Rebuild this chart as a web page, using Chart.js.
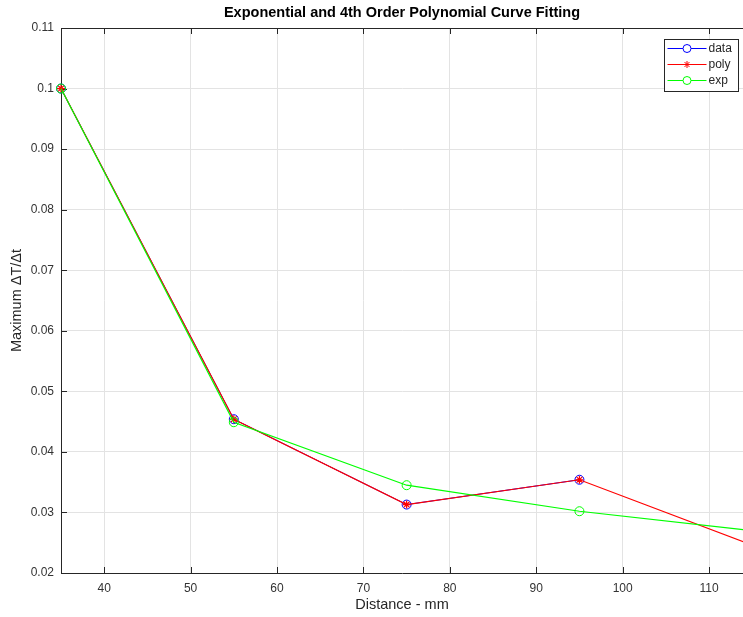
<!DOCTYPE html>
<html>
<head>
<meta charset="utf-8">
<script src="https://cdn.jsdelivr.net/npm/chart.js@4.4.1/dist/chart.umd.min.js"></script>
<style>
  html, body { margin: 0; padding: 0; background: #ffffff; }
  #wrap { width: 743px; height: 617px; }
</style>
</head>
<body>
<div id="wrap"><canvas id="c" width="743" height="617"></canvas></div>
<script>
// ---- data ----
const dataX = [35, 55, 75, 95];
const dataY = [0.1, 0.0454, 0.0313, 0.0354];
const polyX = [35, 55, 75, 95, 115];
const polyY = [0.1, 0.0454, 0.0313, 0.0354, 0.0246];
const expX = [35, 55, 75, 95, 115];
const expY = [0.1, 0.0449, 0.0345, 0.0302, 0.0270];
const xTickValues = [40, 50, 60, 70, 80, 90, 100, 110];
const yTickValues = [0.02, 0.03, 0.04, 0.05, 0.06, 0.07, 0.08, 0.09, 0.1, 0.11];
const seriesNames = ['data', 'poly', 'exp'];
const titleText = 'Exponential and 4th Order Polynomial Curve Fitting';
const xTitle = 'Distance - mm';
const yTitle = 'Maximum \u0394T/\u0394t';

const pts = (xs, ys) => xs.map((x, i) => ({x: x, y: ys[i]}));
const FONT = "'Liberation Sans', Arial, Helvetica, sans-serif";
const AXIS = '#262626';
const BLUE = '#0000ff', RED = '#ff0000', GREEN = '#00ff00';

const boxPlugin = {
  id: 'boxPlugin',
  beforeDatasetsDraw(chart) {
    const {ctx, chartArea: a, scales: {x, y}} = chart;
    ctx.save();
    ctx.strokeStyle = AXIS;
    ctx.lineWidth = 1;
    ctx.beginPath();
    ctx.moveTo(a.left, a.top + 0.5); ctx.lineTo(a.right, a.top + 0.5);
    ctx.stroke();
    // inward tick marks
    ctx.beginPath();
    xTickValues.forEach(v => {
      const px = Math.round(x.getPixelForValue(v)) + 0.5;
      ctx.moveTo(px, a.bottom); ctx.lineTo(px, a.bottom - 6);
      ctx.moveTo(px, a.top); ctx.lineTo(px, a.top + 6);
    });
    yTickValues.forEach(v => {
      const py = Math.round(y.getPixelForValue(v)) + 0.5;
      ctx.moveTo(a.left, py); ctx.lineTo(a.left + 6, py);
    });
    ctx.stroke();
    ctx.restore();
  },
  afterDraw(chart) {
    const {ctx} = chart;
    const bx = 664.5, by = 39.5, bw = 74, bh = 52;
    ctx.save();
    ctx.fillStyle = '#ffffff';
    ctx.fillRect(bx, by, bw, bh);
    ctx.strokeStyle = AXIS;
    ctx.lineWidth = 1;
    ctx.strokeRect(bx, by, bw, bh);
    const colors = [BLUE, RED, GREEN];
    const styles = ['circle', 'star', 'circle'];
    ctx.font = '12px ' + FONT;
    ctx.textBaseline = 'middle';
    seriesNames.forEach((name, i) => {
      const yy = by + 9 + i * 16;
      ctx.strokeStyle = colors[i];
      ctx.lineWidth = 1;
      ctx.beginPath();
      ctx.moveTo(bx + 3, yy); ctx.lineTo(bx + 42, yy);
      ctx.stroke();
      ctx.fillStyle = '#ffffff';
      Chart.helpers.drawPoint(ctx, {pointStyle: styles[i], radius: styles[i] === 'star' ? 3.5 : 4, borderWidth: 1}, bx + 22.5, yy);
      ctx.fillStyle = '#262626';
      ctx.fillText(name, bx + 44, yy + 0.5);
    });
    ctx.restore();
  }
};

new Chart(document.getElementById('c'), {
  type: 'line',
  data: {
    datasets: [
      {
        label: seriesNames[0], data: pts(dataX, dataY), order: 3,
        borderColor: BLUE, backgroundColor: 'rgba(0,0,0,0)', borderWidth: 1,
        pointStyle: 'circle', pointRadius: 4.5, pointBorderColor: BLUE, pointBackgroundColor: 'rgba(0,0,0,0)', pointBorderWidth: 1,
        tension: 0, clip: false
      },
      {
        label: seriesNames[1], data: pts(polyX, polyY), order: 2,
        borderColor: RED, backgroundColor: 'rgba(0,0,0,0)', borderWidth: 1.2,
        pointStyle: 'star', pointRadius: 4, pointBorderColor: RED, pointBackgroundColor: 'rgba(0,0,0,0)', pointBorderWidth: 1.2,
        tension: 0, clip: false
      },
      {
        label: seriesNames[2], data: pts(expX, expY), order: 1,
        borderColor: GREEN, backgroundColor: 'rgba(0,0,0,0)', borderWidth: 1.2,
        pointStyle: 'circle', pointRadius: 4.5, pointBorderColor: GREEN, pointBackgroundColor: 'rgba(0,0,0,0)', pointBorderWidth: 1,
        tension: 0, clip: false
      }
    ]
  },
  options: {
    responsive: false,
    animation: false,
    events: [],
    layout: { padding: 0, autoPadding: false },
    plugins: {
      legend: { display: false },
      tooltip: { enabled: false },
      title: {
        display: true, text: titleText, color: '#000000', fullSize: false,
        font: { family: FONT, size: 14.5, weight: 'bold', lineHeight: 1.2 },
        padding: { top: 4.3, bottom: 6.3 }
      }
    },
    scales: {
      x: {
        type: 'linear', min: 35, max: 113.93,
        afterBuildTicks: s => { s.ticks = xTickValues.map(v => ({value: v})); },
        afterFit: s => { s.height = 44; s.paddingLeft = 0; s.paddingRight = 0; },
        grid: { color: '#e3e3e3', lineWidth: 1, drawTicks: false },
        border: { display: true, color: AXIS, width: 1 },
        ticks: { color: '#333333', font: { family: FONT, size: 12 }, padding: 8, maxRotation: 0, autoSkip: false },
        title: { display: true, text: xTitle, color: '#262626', font: { family: FONT, size: 14.5, lineHeight: 1.2 }, padding: { top: 0, bottom: 3 } }
      },
      y: {
        type: 'linear', min: 0.02, max: 0.11,
        afterBuildTicks: s => { s.ticks = yTickValues.map(v => ({value: v})); },
        afterFit: s => { s.width = 61; s.paddingTop = 0; s.paddingBottom = 0; },
        grid: { color: '#e3e3e3', lineWidth: 1, drawTicks: false },
        border: { display: true, color: AXIS, width: 1 },
        ticks: { color: '#333333', font: { family: FONT, size: 12 }, padding: 7, autoSkip: false,
          callback: v => String(parseFloat(Number(v).toFixed(3))) },
        title: { display: true, text: yTitle, color: '#262626', font: { family: FONT, size: 14.5, lineHeight: 1.2 }, padding: { top: 8.5, bottom: 0 } }
      }
    }
  },
  plugins: [boxPlugin]
});
</script>
</body>
</html>
